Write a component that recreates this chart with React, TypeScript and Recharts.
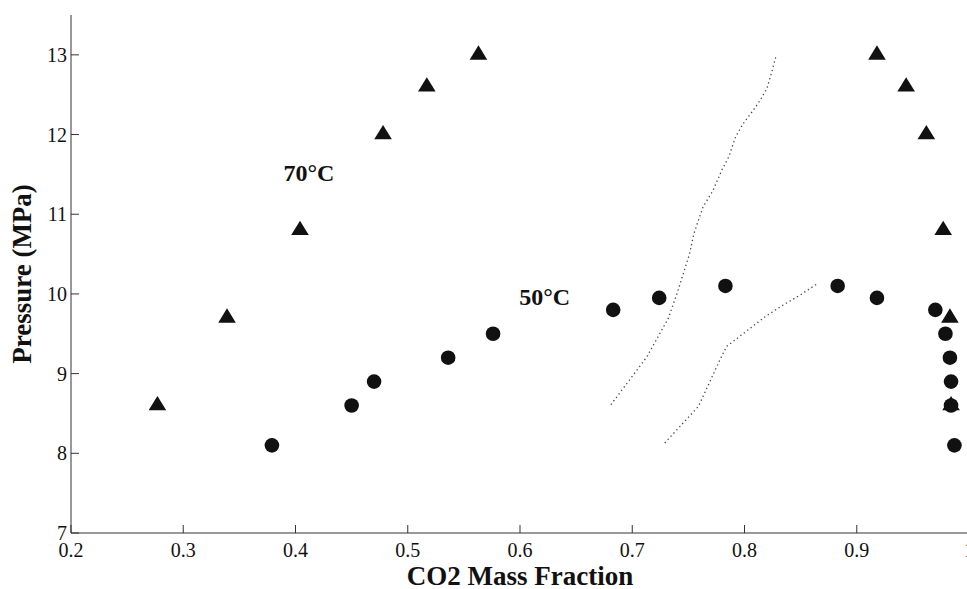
import React from "react";
import {
  ScatterChart,
  Scatter,
  XAxis,
  YAxis,
  ReferenceDot,
} from "recharts";

const INK = "#111";
const FRAME = "#333";
const SERIF = "'Liberation Serif', 'Times New Roman', serif";

// CO2 mass fraction / pressure (MPa) at 70°C (triangles)
const x70 = [0.277, 0.339, 0.404, 0.478, 0.517, 0.563, 0.918, 0.944, 0.962, 0.977, 0.983, 0.984];
const p70 = [8.6, 9.7, 10.8, 12.0, 12.6, 13.0, 13.0, 12.6, 12.0, 10.8, 9.7, 8.6];

// CO2 mass fraction / pressure (MPa) at 50°C (circles)
const x50 = [0.379, 0.45, 0.47, 0.536, 0.576, 0.683, 0.724, 0.783, 0.883, 0.918, 0.97, 0.979, 0.983, 0.984, 0.984, 0.987];
const p50 = [8.1, 8.6, 8.9, 9.2, 9.5, 9.8, 9.95, 10.1, 10.1, 9.95, 9.8, 9.5, 9.2, 8.9, 8.6, 8.1];

// dotted curves
const curveAX = [0.681, 0.713, 0.732, 0.74, 0.751, 0.755, 0.763, 0.772, 0.78, 0.786, 0.792, 0.799, 0.807, 0.814, 0.82, 0.824, 0.828];
const curveAY = [8.61, 9.21, 9.69, 10.01, 10.5, 10.76, 11.09, 11.3, 11.56, 11.72, 11.97, 12.14, 12.29, 12.43, 12.58, 12.77, 12.98];
const curveBX = [0.729, 0.759, 0.778, 0.784, 0.818, 0.832, 0.85, 0.864];
const curveBY = [8.13, 8.59, 9.17, 9.34, 9.71, 9.84, 9.99, 10.12];

const xTicks = [0.2, 0.3, 0.4, 0.5, 0.6, 0.7, 0.8, 0.9, 1.0];
const yTicks = [7, 8, 9, 10, 11, 12, 13];

const zip = (xs: number[], ys: number[]) => xs.map((x, i) => ({ x, y: ys[i] }));

const Triangle = (props: any) => {
  const { cx, cy } = props;
  if (cx == null || cy == null) return null;
  const pts = `${cx},${cy - 9.5} ${cx + 8.8},${cy + 4.8} ${cx - 8.8},${cy + 4.8}`;
  return <polygon points={pts} fill={INK} />;
};

const Circle = (props: any) => {
  const { cx, cy } = props;
  if (cx == null || cy == null) return null;
  return <circle cx={cx} cy={cy} r={7.3} fill={INK} />;
};

const NoMark = () => <g />;

const BottomTick = ({ x, y, payload }: any) => (
  <g>
    <line x1={x} x2={x} y1={y} y2={y - 8} stroke={FRAME} />
    <text x={x} y={y + 24} textAnchor="middle" fontSize={20} fontFamily={SERIF} fill={INK}>
      {String(payload.value)}
    </text>
  </g>
);

const LeftTick = ({ x, y, payload }: any) => (
  <g>
    <line x1={x} x2={x + 8} y1={y} y2={y} stroke={FRAME} />
    <text x={x - 4} y={y} dy="0.35em" textAnchor="end" fontSize={20} fontFamily={SERIF} fill={INK}>
      {String(payload.value)}
    </text>
  </g>
);

const TopTick = ({ x, y }: any) => <line x1={x} x2={x} y1={y} y2={y + 8} stroke={FRAME} />;
const RightTick = ({ x, y }: any) => <line x1={x} x2={x - 8} y1={y} y2={y} stroke={FRAME} />;

const labelStyle = { fontSize: 24, fontWeight: "bold", fontFamily: SERIF, fill: INK };

export default function App() {
  return (
    <div
      style={{
        position: "absolute",
        left: 0,
        top: 0,
        width: 967,
        height: 589,
        overflow: "hidden",
        background: "#fff",
      }}
    >
      <ScatterChart width={975} height={589} margin={{ top: 15, right: 6, bottom: 0, left: 0 }}>
        <XAxis
          dataKey="x"
          type="number"
          domain={[0.2, 1.0]}
          ticks={xTicks}
          interval={0}
          height={56}
          tickSize={0}
          tickMargin={0}
          tickLine={false}
          stroke={FRAME}
          tick={<BottomTick />}
          label={{
            content: ({ viewBox }: any) => (
              <text
                x={viewBox.x + viewBox.width / 2}
                y={viewBox.y + 52}
                textAnchor="middle"
                fontSize={27}
                fontWeight="bold"
                fontFamily={SERIF}
                fill={INK}
              >
                CO2 Mass Fraction
              </text>
            ),
          }}
        />
        <XAxis
          xAxisId="top"
          orientation="top"
          type="number"
          domain={[0.2, 1.0]}
          ticks={xTicks}
          interval={0}
          height={0}
          tickSize={0}
          tickMargin={0}
          tickLine={false}
          stroke={FRAME}
          tick={<TopTick />}
        />
        <YAxis
          dataKey="y"
          type="number"
          domain={[7, 13.5]}
          ticks={yTicks}
          interval={0}
          width={71}
          tickSize={0}
          tickMargin={0}
          tickLine={false}
          stroke={FRAME}
          tick={<LeftTick />}
          label={{
            content: ({ viewBox }: any) => {
              const cy = viewBox.y + viewBox.height / 2;
              return (
                <text
                  x={31}
                  y={cy}
                  transform={`rotate(-90, 31, ${cy})`}
                  textAnchor="middle"
                  fontSize={27}
                  fontWeight="bold"
                  fontFamily={SERIF}
                  fill={INK}
                >
                  Pressure (MPa)
                </text>
              );
            },
          }}
        />
        <YAxis
          yAxisId="right"
          orientation="right"
          type="number"
          domain={[7, 13.5]}
          ticks={yTicks}
          interval={0}
          width={0}
          tickSize={0}
          tickMargin={0}
          tickLine={false}
          stroke={FRAME}
          tick={<RightTick />}
        />

        <Scatter
          data={zip(curveAX, curveAY)}
          fill="#444"
          line={{ stroke: "#444", strokeWidth: 1.3, strokeDasharray: "1.3 3" }}
          lineType="joint"
          shape={<NoMark />}
          isAnimationActive={false}
        />
        <Scatter
          data={zip(curveBX, curveBY)}
          fill="#444"
          line={{ stroke: "#444", strokeWidth: 1.3, strokeDasharray: "1.3 3" }}
          lineType="joint"
          shape={<NoMark />}
          isAnimationActive={false}
        />
        <Scatter data={zip(x70, p70)} fill={INK} shape={<Triangle />} isAnimationActive={false} />
        <Scatter data={zip(x50, p50)} fill={INK} shape={<Circle />} isAnimationActive={false} />

        <ReferenceDot x={0.412} y={11.52} r={0} stroke="none" label={{ value: "70°C", position: "center", ...labelStyle }} />
        <ReferenceDot x={0.622} y={9.97} r={0} stroke="none" label={{ value: "50°C", position: "center", ...labelStyle }} />
      </ScatterChart>
    </div>
  );
}
